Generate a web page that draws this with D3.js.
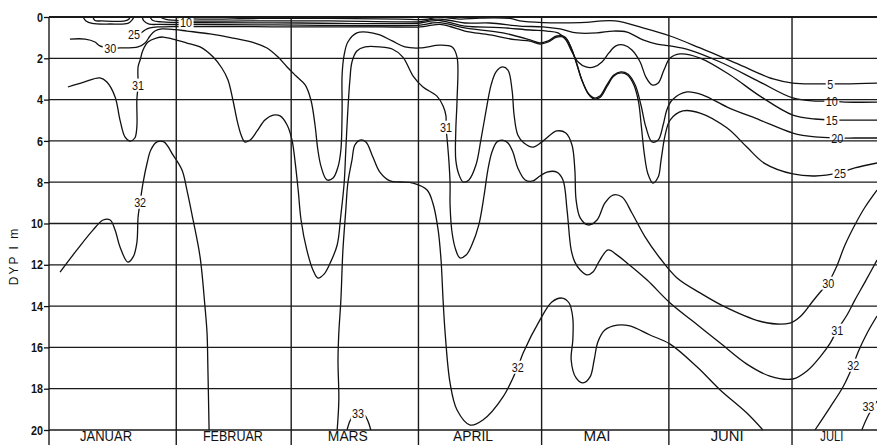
<!DOCTYPE html>
<html><head><meta charset="utf-8">
<script src="https://cdn.jsdelivr.net/npm/d3@7"></script>
<style>
html,body{margin:0;padding:0;background:#fff;}
svg{display:block;}
text{font-family:"Liberation Sans","Arial",sans-serif;fill:#111;}
</style></head><body>
<svg id="c" width="877" height="445"></svg>
<script>
// ---- categories / ticks ----
const monthNames = ["JANUAR","FEBRUAR","MARS","APRIL","MAI","JUNI","JULI"];
const monthStartDays = [0,31,59,90,120,151,181];
const monthLabelDays = [13.9,44.8,72.8,103.3,133.5,165.2,190.7];
const depthTicks = [0,2,4,6,8,10,12,14,16,18,20];

// ---- isolines: [day of year, depth m] ----
const iso5 = [[30.7,0],[33.1,0.07],[36.8,0.10],[51.4,0.07],[68.5,0.07],[85.5,0.10],[91.6,0.12],[94.5,0.02],[97.0,0.04],[100.1,0.10],[105.0,0.05],[112.3,0.07],[114.7,0.19],[120.3,0.27],[129.4,0.27],[137.9,0.19],[144.7,0.53],[151.3,0.92],[158.6,1.50],[168.3,2.32],[176.4,3.00],[181.2,3.20],[186.6,3.24],[190.3,3.24],[193.9,3.24],[201.7,3.20]];
const iso10 = [[27.0,0],[28.5,0.12],[33.4,0.19],[49.0,0.19],[68.5,0.19],[90.4,0.22],[93.3,0.12],[95.2,0.10],[97.7,0.17],[101.3,0.29],[107.4,0.29],[114.7,0.44],[120.3,0.48],[124.5,0.58],[128.6,0.77],[133.5,0.77],[137.4,0.68],[140.8,0.73],[144.7,1.11],[148.1,1.31],[151.3,1.40],[156.1,1.60],[163.5,2.18],[173.2,3.15],[181.2,3.92],[186.6,4.07],[190.7,4.07],[193.9,4.12],[201.7,4.12]];
const iso15 = [[24.6,0],[25.3,0.17],[27.5,0.24],[36.8,0.27],[61.1,0.29],[90.4,0.29],[93.3,0.19],[95.2,0.17],[97.7,0.27],[101.3,0.44],[109.9,0.51],[117.2,0.63],[121.3,0.68],[124.0,0.77],[125.9,1.11],[127.4,1.69],[128.9,2.18],[130.8,2.42],[132.8,2.42],[134.7,2.18],[136.4,1.74],[138.1,1.40],[140.1,1.36],[142.0,1.60],[144.0,2.18],[145.4,2.91],[146.9,3.29],[148.4,3.20],[149.8,2.57],[151.3,1.99],[153.7,1.79],[158.6,1.99],[165.9,2.81],[173.2,3.83],[181.2,4.75],[186.6,4.94],[190.7,4.99],[193.9,4.99],[201.7,4.99]];
const iso20a = [[10.7,0],[11.2,0.17],[12.9,0.19],[18.5,0.19],[19.5,0.10],[19.7,0]];
const iso20 = [[22.7,0],[23.1,0.19],[24.4,0.34],[27.0,0.36],[36.8,0.36],[61.1,0.39],[90.4,0.39],[93.3,0.29],[95.2,0.27],[97.7,0.36],[101.3,0.53],[110.6,0.77],[117.2,1.11],[119.6,1.26],[121.6,1.16],[123.7,0.92],[125.7,0.97],[127.2,1.50],[128.4,2.18],[129.8,3.05],[131.3,3.68],[132.8,3.92],[134.2,3.83],[135.9,3.29],[137.6,2.81],[139.3,2.66],[141.0,2.76],[142.8,3.29],[144.2,4.26],[145.4,5.33],[146.9,6.05],[148.4,5.96],[149.6,5.23],[150.5,4.50],[151.8,4.02],[155.4,3.63],[159.3,3.78],[165.2,4.36],[173.2,4.99],[181.2,5.62],[186.6,5.81],[192.0,5.86],[196.3,5.86],[201.7,5.86]];
const iso25a = [[8.3,0],[9.0,0.19],[10.5,0.31],[14.9,0.34],[19.2,0.31],[20.2,0.15],[20.7,0]];
const iso25 = [[20.7,0.82],[22.4,0.77],[23.4,0.63],[24.6,0.53],[26.6,0.48],[30.9,0.46],[41.7,0.46],[61.1,0.48],[80.6,0.48],[90.4,0.48],[93.3,0.39],[95.2,0.36],[97.7,0.46],[101.3,0.68],[107.4,0.87],[113.5,1.10],[117.2,1.17],[119.6,1.31],[121.6,1.21],[123.7,0.97],[125.8,1.02],[127.3,1.55],[128.5,2.23],[129.9,3.10],[131.4,3.73],[132.8,3.97],[134.3,3.88],[136.0,3.34],[137.6,2.86],[139.3,2.71],[140.9,2.81],[142.5,3.30],[143.6,4.10],[144.3,5.30],[145.0,6.60],[145.9,7.60],[147.1,8.04],[148.4,7.75],[149.1,6.93],[150.1,5.71],[151.3,4.99],[154.4,4.55],[158.6,4.65],[165.2,5.38],[170.0,6.30],[174.4,7.10],[181.2,7.60],[186.6,7.70],[192.4,7.55],[196.3,7.31],[201.7,7.07]];
const iso30 = [[5.1,1.07],[8.8,1.07],[11.2,1.21],[12.4,1.40],[14.9,1.50],[17.3,1.50],[21.7,1.45],[23.4,1.26],[24.6,0.92],[25.8,0.68],[27.5,0.58],[30.7,0.61],[33.6,0.68],[39.2,0.82],[44.8,1.02],[50.2,1.26],[53.1,1.50],[55.8,1.94],[58.0,2.42],[60.2,2.86],[62.4,3.29],[63.8,4.02],[64.8,5.23],[65.5,6.44],[66.3,7.26],[67.7,7.89],[69.2,7.80],[70.4,7.26],[71.1,6.44],[71.4,4.50],[71.4,2.81],[71.9,1.84],[72.8,1.21],[75.0,0.77],[77.5,0.73],[80.6,0.87],[83.6,1.16],[86.7,1.45],[90.4,1.50],[95.2,1.36],[98.2,1.45],[99.4,1.94],[99.4,4.02],[99.1,5.47],[99.1,6.93],[99.9,7.65],[100.9,7.99],[102.3,7.89],[104.0,7.17],[105.2,5.96],[106.5,4.50],[107.7,3.29],[108.9,2.66],[110.4,2.42],[111.8,2.57],[112.8,3.54],[113.3,4.75],[114.2,5.71],[115.7,6.10],[117.9,6.30],[120.3,6.01],[123.7,5.52],[125.9,5.62],[127.4,6.20],[128.1,7.41],[128.4,8.86],[129.4,9.73],[131.3,10.07],[133.5,9.83],[135.4,9.01],[137.4,8.62],[139.6,8.72],[142.0,9.49],[145.2,10.65],[148.8,11.67],[153.0,12.64],[158.6,13.36],[165.2,14.09],[173.9,14.77],[180.5,14.82],[183.4,14.43],[185.9,13.80],[188.3,13.22],[189.8,12.88],[191.7,12.16],[193.9,11.04],[196.3,10.07],[198.8,9.20],[201.7,8.38]];
const iso31 = [[4.6,3.39],[8.5,3.15],[12.4,2.95],[14.1,3.15],[16.1,3.87],[17.3,4.99],[18.5,5.81],[19.7,6.01],[20.9,5.86],[21.4,5.33],[21.4,4.02],[21.7,3.29],[21.7,2.42],[22.2,2.08],[22.9,1.60],[24.1,1.21],[26.1,1.02],[27.8,0.97],[30.2,1.07],[33.6,1.26],[36.8,1.45],[40.0,1.94],[42.1,2.47],[43.6,3.05],[44.8,4.02],[45.8,4.99],[46.8,5.71],[47.7,6.05],[49.0,5.96],[50.7,5.52],[52.6,4.99],[54.6,4.75],[56.3,4.79],[58.0,5.23],[59.2,5.96],[59.9,6.93],[60.7,8.38],[61.4,9.83],[62.8,11.28],[64.3,12.25],[65.5,12.64],[67.0,12.45],[68.5,11.91],[70.2,11.04],[71.1,9.59],[71.9,8.04],[72.3,6.44],[72.8,4.50],[73.3,3.05],[73.8,2.18],[75.0,1.65],[77.0,1.45],[80.6,1.45],[83.6,1.55],[86.2,1.94],[88.7,2.86],[91.1,3.39],[94.5,3.83],[96.0,4.31],[96.7,4.79],[96.7,5.33],[97.0,5.96],[97.4,6.93],[97.7,8.04],[97.7,9.10],[98.2,10.46],[99.1,11.28],[100.1,11.67],[101.6,11.53],[103.0,11.04],[104.7,10.07],[106.0,8.62],[106.9,7.41],[107.9,6.54],[109.1,6.05],[110.4,5.96],[111.8,6.10],[113.0,6.54],[114.2,7.31],[116.0,7.89],[117.9,7.94],[119.6,7.70],[121.3,7.51],[123.7,7.51],[125.2,7.89],[126.2,9.35],[127.2,11.28],[128.1,11.87],[129.4,12.25],[131.1,12.49],[132.5,12.35],[134.2,11.77],[136.2,11.28],[138.4,11.53],[140.8,11.91],[145.7,12.74],[151.3,13.85],[157.4,14.82],[163.5,15.79],[170.0,16.81],[175.6,17.39],[181.2,17.53],[184.9,17.10],[187.8,16.47],[190.3,15.79],[192.0,15.16],[194.4,14.43],[196.3,13.71],[198.8,12.83],[201.7,11.77]];
const iso32a = [[2.7,12.35],[6.8,11.28],[10.7,10.32],[13.2,9.83],[14.9,9.83],[16.1,10.32],[17.3,11.14],[19.2,11.87],[20.5,11.62],[21.4,10.94],[21.7,9.69],[22.2,8.96],[22.9,8.04],[23.9,7.07],[24.8,6.44],[26.3,6.05],[28.0,6.05],[30.2,6.68],[32.4,7.41],[33.6,8.38],[35.1,9.83],[36.8,11.62],[38.0,14.04],[38.5,15.30],[38.7,16.95],[39.0,20]];
const iso32b = [[70.2,20],[70.6,18.55],[70.4,16.61],[70.6,15.30],[71.1,13.71],[71.6,11.28],[72.3,9.35],[72.8,8.04],[73.8,6.93],[74.5,6.20],[75.8,5.96],[77.2,6.05],[78.9,6.78],[80.6,7.51],[83.1,7.94],[85.5,7.99],[88.7,8.04],[92.1,8.38],[93.5,9.01],[94.8,10.32],[95.5,11.77],[96.0,13.71],[96.5,15.30],[97.7,17.72],[99.4,19.03],[102.6,19.76],[105.7,19.52],[110.6,18.40],[114.2,16.95],[115.5,16.27],[119.6,14.67],[122.5,13.80],[125.0,13.61],[126.7,13.85],[127.6,14.58],[127.6,15.64],[127.2,16.61],[128.4,17.48],[130.1,17.72],[131.8,17.43],[132.8,16.61],[133.7,15.74],[135.4,15.16],[138.4,14.92],[141.5,14.96],[146.4,15.40],[151.3,15.84],[157.9,16.95],[163.5,18.06],[170.0,19.18],[173.9,20]];
const iso32c = [[186.6,20],[190.3,18.89],[193.4,17.92],[195.9,16.85],[197.1,16.22],[199.3,15.30],[201.7,14.48]];
const iso33a = [[72.6,20],[73.3,19.57],[74.1,19.27],[75.3,19.13],[76.7,19.23],[77.7,19.57],[78.4,20]];
const iso33b = [[198.0,20],[199.5,19.32],[201.7,18.6]];

// contour labels: [day, depth, text]
const contourLabels = [
  [14.9,1.50,"30"],[20.7,0.82,"25"],[21.7,3.29,"31"],[22.2,8.96,"32"],[33.4,0.24,"10"],
  [96.7,5.33,"31"],[75.3,19.18,"33"],[114.2,16.95,"32"],
  [190.3,3.24,"5"],[190.7,4.07,"10"],[190.7,4.99,"15"],[192.0,5.86,"20"],[192.7,7.55,"25"],
  [189.8,12.88,"30"],[192.0,15.16,"31"],[195.9,16.85,"32"],[199.6,18.84,"33"]
];

const contours = [iso5, iso10, iso15, iso20a, iso20, iso25a, iso25, iso30, iso31, iso32a, iso32b, iso32c, iso33a, iso33b];

// ---- drawing ----
const W = 877, H = 445;
const svg = d3.select("#c");
const x = d3.scaleLinear().domain([0, 201.7]).range([49, 877]);
const y = d3.scaleLinear().domain([0, 20]).range([17, 430]);

svg.append("defs").append("clipPath").attr("id","clip")
  .append("rect").attr("x",49).attr("y",16).attr("width",W-49).attr("height",415);

const gLines = svg.append("g").attr("clip-path","url(#clip)");
const gLabelBg = svg.append("g");
const gGrid = svg.append("g");
const gLabelText = svg.append("g");

const line = d3.line().x(d=>x(d[0])).y(d=>y(d[1])).curve(d3.curveCatmullRom.alpha(0.5));
gLines.selectAll("path").data(contours).join("path")
  .attr("d", line).attr("fill","none").attr("stroke","#111").attr("stroke-width",1.3)
  .attr("stroke-linejoin","round");

// grid
gGrid.selectAll("line.h").data(depthTicks).join("line").attr("class","h")
  .attr("x1", x(0)).attr("x2", W).attr("y1", d=>y(d)).attr("y2", d=>y(d))
  .attr("stroke","#1a1a1a").attr("stroke-width", d=> d===0 ? 2 : 1.3);
gGrid.selectAll("line.v").data(monthStartDays).join("line").attr("class","v")
  .attr("x1", d=>x(d)).attr("x2", d=>x(d)).attr("y1", y(0)).attr("y2", H)
  .attr("stroke","#1a1a1a").attr("stroke-width",1.4);

// y axis ticks
const axis = d3.axisLeft(y).tickValues(depthTicks).tickSize(5).tickPadding(1).tickFormat(d3.format("d"));
const ga = svg.append("g").attr("transform",`translate(${x(0)},0)`).call(axis);
ga.select(".domain").remove();
ga.selectAll(".tick line").attr("stroke","#111").attr("stroke-width",1.3);
ga.selectAll(".tick text").attr("font-size",13).attr("font-weight","bold")
  .style("font-family",'"Liberation Sans",Arial,sans-serif').attr("fill","#111")
  .attr("textLength", d=>String(d).length*6).attr("lengthAdjust","spacingAndGlyphs");

// y title
svg.append("text").attr("transform","translate(18,256) rotate(-90)")
  .attr("text-anchor","middle").attr("font-size",12).attr("letter-spacing","2px").text("DYP I m");

// month labels
const monthLabelWidths = [52,60,40,40,27,33,23];
svg.selectAll("text.m").data(monthNames).join("text").attr("class","m")
  .attr("x",(d,i)=>x(monthLabelDays[i]) - monthLabelWidths[i]/2).attr("y",441)
  .attr("font-size",14)
  .attr("textLength",(d,i)=>monthLabelWidths[i]).attr("lengthAdjust","spacingAndGlyphs")
  .text(d=>d);

// contour labels
contourLabels.forEach(l=>{
  const t = gLabelText.append("text").attr("x",x(l[0]) - l[2].length*3).attr("y",y(l[1])).attr("dy","0.36em")
    .attr("font-size",13).attr("textLength", l[2].length*6).attr("lengthAdjust","spacingAndGlyphs").text(l[2]);
  const b = t.node().getBBox();
  gLabelBg.append("rect").attr("x",b.x-1.5).attr("y",b.y+1).attr("width",b.width+3).attr("height",b.height-2).attr("fill","#fff");
});
</script>
</body></html>
